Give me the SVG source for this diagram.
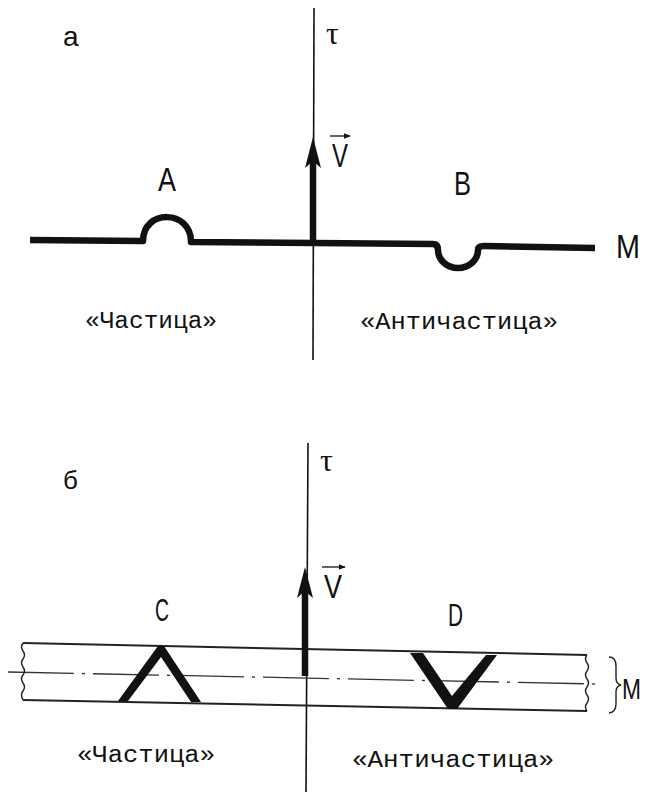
<svg xmlns="http://www.w3.org/2000/svg" width="647" height="792" viewBox="0 0 647 792">
<style>
.axis{stroke:#111;stroke-width:1.6;fill:none}
.thick{stroke:#111;stroke-width:6.5;fill:none;stroke-linejoin:round}
.band{stroke:#222;stroke-width:2;fill:none}
.thin{stroke:#222;stroke-width:1.4;fill:none}
.dd{stroke:#333;stroke-width:1.3;fill:none;stroke-dasharray:66 8 3 8}
.lbl{font-family:"Liberation Sans","DejaVu Sans",sans-serif;fill:#111}
.ser{font-family:"Liberation Serif","DejaVu Serif",serif;fill:#111}
.mono{font-family:"Liberation Mono","DejaVu Sans Mono",monospace;fill:#111;font-size:23px}
.head{fill:#111}
</style>
<defs>
<marker id="sm" viewBox="0 0 10 10" refX="9" refY="5" markerWidth="7" markerHeight="7" orient="auto" markerUnits="userSpaceOnUse">
<path d="M0,1 L10,5 L0,9 Z" fill="#111"/>
</marker>
</defs>
<rect width="647" height="792" fill="#fff"/>

<!-- Panel a -->
<g id="panel-a">
<g id="label-a"><text class="lbl" x="63" y="46" font-size="28">а</text></g>
<g id="axis-a">
<line class="axis" x1="314" y1="8" x2="313" y2="360"/>
<text class="ser" x="326" y="44" font-size="32">τ</text>
</g>
<g id="connectors-a">
<line class="thick" x1="313" y1="242" x2="313" y2="158"/>
<polygon class="head" points="313,137 321,168 313,161 305,168"/>
</g>
<g id="V-a">
<line class="thin" x1="330" y1="136" x2="350" y2="136" marker-end="url(#sm)"/>
<text class="lbl" x="332" y="167" font-size="34" textLength="16" lengthAdjust="spacingAndGlyphs">V</text>
</g>
<g id="M-line-a">
<path class="thick" d="M30,240 L143,241 C143,209 191,209 191,242 L433,244 Q438,244 438,250 A20 18 0 0 0 478 250 Q478,246 484,246 L595,248"/>
<text class="lbl" x="616" y="258" font-size="34" textLength="24" lengthAdjust="spacingAndGlyphs">M</text>
</g>
<g id="node-A"><text class="lbl" x="158" y="191" font-size="33" textLength="18" lengthAdjust="spacingAndGlyphs">A</text></g>
<g id="node-B"><text class="lbl" x="454" y="195" font-size="33" textLength="17" lengthAdjust="spacingAndGlyphs">B</text></g>
<text class="mono" x="85" y="328" textLength="132" lengthAdjust="spacingAndGlyphs">«Частица»</text>
<text class="mono" x="360" y="329" textLength="198" lengthAdjust="spacingAndGlyphs">«Античастица»</text>
</g>

<!-- Panel b -->
<g id="panel-b">
<g id="label-b"><text class="lbl" x="63" y="489" font-size="26">б</text></g>
<g id="axis-b">
<line class="axis" x1="308" y1="443" x2="306" y2="792"/>
<text class="ser" x="320" y="471" font-size="32">τ</text>
</g>
<g id="band">
<line class="band" x1="23" y1="643" x2="587" y2="655"/>
<line class="band" x1="23" y1="700" x2="587" y2="711"/>
<line class="dd" x1="8" y1="672" x2="596" y2="684"/>
<path class="thin" d="M23,643 q-3,4 0,8 q3,4 0,8 q-3,4 0,8 q3,4 0,8 q-3,4 0,8 q3,4 0,8 q-3,4 0,9"/>
<path class="thin" d="M587,655 q-3,4 0,8 q3,4 0,8 q-3,4 0,8 q3,4 0,8 q-3,4 0,8 q3,4 0,8 q-3,4 0,8"/>
<path class="thin" d="M609,657 Q616,657 616,666 L616,678 Q616,684 621,685 Q616,686 616,692 L616,704 Q616,712 609,713"/>
<text class="lbl" x="622" y="699" font-size="30" textLength="19" lengthAdjust="spacingAndGlyphs">M</text>
</g>
<g id="connectors-b">
<line class="thick" x1="305" y1="676" x2="305" y2="590"/>
<polygon class="head" points="305,567 313,598 305,591 297,598"/>
</g>
<g id="V-b">
<line class="thin" x1="322" y1="567" x2="345" y2="567" marker-end="url(#sm)"/>
<text class="lbl" x="324" y="598" font-size="34" textLength="18" lengthAdjust="spacingAndGlyphs">V</text>
</g>
<g id="node-C">
<text class="lbl" x="155" y="621" font-size="32" textLength="14" lengthAdjust="spacingAndGlyphs">C</text>
<polygon class="head" points="118,701 158,646 164,646 201,702 191,702 161,657 128,701"/>
</g>
<g id="node-D">
<text class="lbl" x="448" y="626" font-size="32" textLength="15" lengthAdjust="spacingAndGlyphs">D</text>
<polygon class="head" points="410,653 423,653 452,696 486,655 497,655 457,709 448,709"/>
</g>
<text class="mono" x="77" y="762" textLength="138" lengthAdjust="spacingAndGlyphs">«Частица»</text>
<text class="mono" x="352" y="767" textLength="202" lengthAdjust="spacingAndGlyphs">«Античастица»</text>
</g>
</svg>
